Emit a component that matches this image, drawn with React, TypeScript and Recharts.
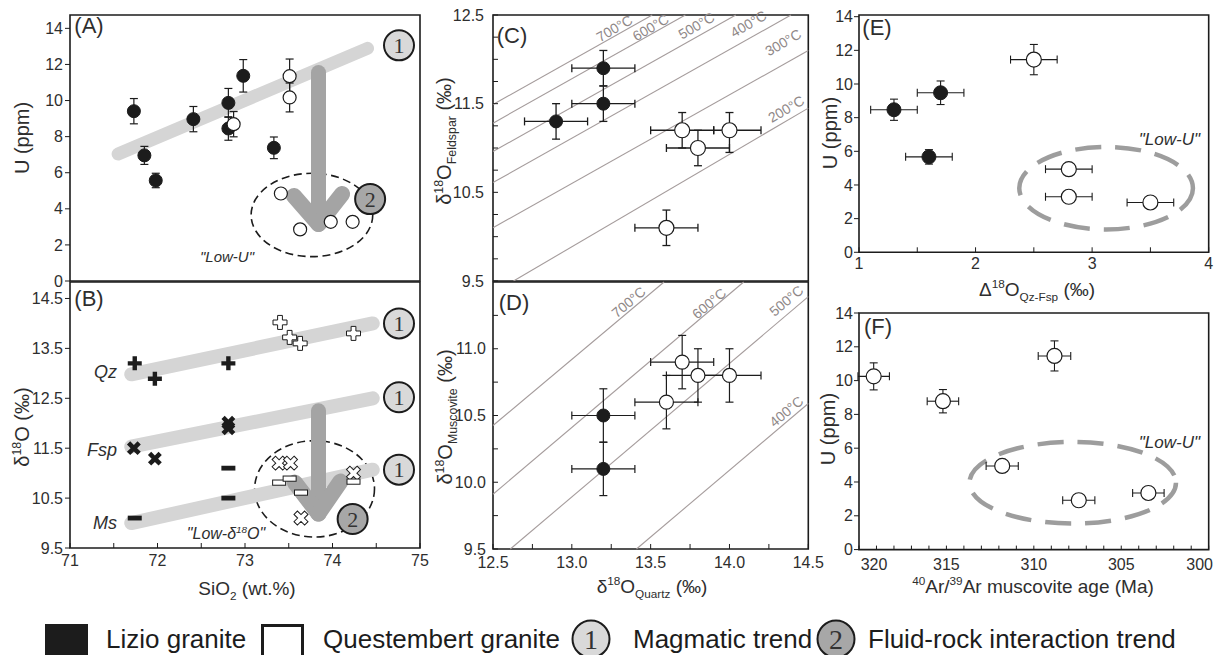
import React from 'react';
import { ScatterChart, Scatter, XAxis, YAxis, ErrorBar, ReferenceLine, ReferenceArea, ReferenceDot } from 'recharts';

const SANS = '"Liberation Sans", Arial, Helvetica, sans-serif';
const SERIF = '"Liberation Serif", "DejaVu Serif", "Times New Roman", serif';
const INK = '#1c1c1c';
const TEXT = '#2e2e2e';
const BAND = '#d5d5d5';
const ARROW = '#a4a4a4';
const CIRCLE1 = '#d9d9d9';
const CIRCLE2 = '#a7a7a7';
const ISO = '#a59c9c';
const DASHGRAY = '#9d9d9d';

// ---------------- Tick values ----------------
const aYTicks = [0, 2, 4, 6, 8, 10, 12, 14];
const abXTicks = [71, 71.5, 72, 72.5, 73, 73.5, 74, 74.5, 75];
const bYTicks = [9.5, 10.5, 11.5, 12.5, 13.5, 14.5];
const cdXTicks = [12.5, 12.75, 13, 13.25, 13.5, 13.75, 14, 14.25, 14.5];
const cYTicks = [9.5, 9.75, 10, 10.25, 10.5, 10.75, 11, 11.25, 11.5, 11.75, 12, 12.25, 12.5];
const dYTicks = [9.5, 9.75, 10, 10.25, 10.5, 10.75, 11, 11.25];
const efYTicks = [0, 2, 4, 6, 8, 10, 12, 14];
const eXTicks = [1, 1.5, 2, 2.5, 3, 3.5, 4];
const fXTicks = [300, 301, 302, 303, 304, 305, 306, 307, 308, 309, 310, 311, 312, 313, 314, 315, 316, 317, 318, 319, 320];

// ---------------- Panel A: U (ppm) vs SiO2 ----------------
const aLizio = [
  { x: 71.73, y: 9.41, ey: 0.7 },
  { x: 71.85, y: 6.96, ey: 0.5 },
  { x: 71.98, y: 5.57, ey: 0.4 },
  { x: 72.41, y: 8.97, ey: 0.7 },
  { x: 72.81, y: 9.87, ey: 0.8 },
  { x: 72.81, y: 8.45, ey: 0.65 },
  { x: 72.98, y: 11.37, ey: 0.9 },
  { x: 73.33, y: 7.38, ey: 0.6 },
];
const aQuestembert = [
  { x: 72.87, y: 8.69, ey: 0.7 },
  { x: 73.51, y: 11.35, ey: 0.95 },
  { x: 73.51, y: 10.17, ey: 0.8 },
  { x: 73.41, y: 4.85, ey: 0 },
  { x: 73.63, y: 2.86, ey: 0 },
  { x: 73.98, y: 3.28, ey: 0 },
  { x: 74.23, y: 3.28, ey: 0 },
];
const aMagmaticTrend = [{ x: 71.55, y: 7.04 }, { x: 74.4, y: 12.89 }];
const aArrowShaft = [{ x: 73.84, y: 11.55 }, { x: 73.84, y: 3.16 }];
const aArrowLeft = [{ x: 73.56, y: 4.71 }, { x: 73.84, y: 3.16 }];
const aArrowRight = [{ x: 74.11, y: 4.82 }, { x: 73.84, y: 3.16 }];
const aLowUField = [{ x: 73.07, y: 1.35 }, { x: 74.46, y: 5.97 }];
const aTrendMarks = [{ x: 74.76, y: 13.06, n: '1' }, { x: 74.43, y: 4.54, n: '2' }];

// ---------------- Panel B: d18O vs SiO2 ----------------
const bQzLizio = [{ x: 71.74, y: 13.2 }, { x: 71.97, y: 12.89 }, { x: 72.81, y: 13.2 }];
const bQzQuestembert = [{ x: 73.4, y: 14.02 }, { x: 73.51, y: 13.72 }, { x: 73.63, y: 13.6 }, { x: 74.24, y: 13.8 }];
const bFspLizio = [{ x: 71.73, y: 11.5 }, { x: 71.97, y: 11.29 }, { x: 72.81, y: 12.01 }, { x: 72.81, y: 11.9 }];
const bFspQuestembert = [{ x: 73.39, y: 11.2 }, { x: 73.52, y: 11.2 }, { x: 74.24, y: 11.0 }, { x: 73.64, y: 10.1 }];
const bMsLizio = [{ x: 71.74, y: 10.1 }, { x: 72.81, y: 11.1 }, { x: 72.81, y: 10.5 }];
const bMsQuestembert = [{ x: 73.39, y: 10.81 }, { x: 73.51, y: 10.89 }, { x: 73.64, y: 10.61 }, { x: 74.24, y: 10.83 }];
const bQzTrend = [{ x: 71.7, y: 12.98 }, { x: 74.46, y: 14.0 }];
const bFspTrend = [{ x: 71.7, y: 11.53 }, { x: 74.46, y: 12.5 }];
const bMsTrend = [{ x: 71.7, y: 10.0 }, { x: 74.46, y: 11.07 }];
const bArrowShaft = [{ x: 73.84, y: 12.25 }, { x: 73.84, y: 10.19 }];
const bArrowLeft = [{ x: 73.57, y: 10.81 }, { x: 73.84, y: 10.19 }];
const bArrowRight = [{ x: 74.09, y: 10.83 }, { x: 73.84, y: 10.19 }];
const bLowO18Field = [{ x: 73.11, y: 9.72 }, { x: 74.48, y: 11.65 }];
const bTrendMarks = [
  { x: 74.76, y: 14.0, n: '1' },
  { x: 74.76, y: 12.52, n: '1' },
  { x: 74.76, y: 11.07, n: '1' },
  { x: 74.23, y: 10.08, n: '2' },
];

// ---------------- Panel C: d18O Fsp vs d18O Qz ----------------
const cLizio = [
  { x: 12.9, y: 11.3, ex: 0.2, ey: 0.2 },
  { x: 13.2, y: 11.9, ex: 0.2, ey: 0.2 },
  { x: 13.2, y: 11.5, ex: 0.2, ey: 0.2 },
];
const cQuestembert = [
  { x: 13.7, y: 11.2, ex: 0.2, ey: 0.2 },
  { x: 14.0, y: 11.2, ex: [0.1, 0.2], ey: [0.25, 0.2] },
  { x: 13.8, y: 11.0, ex: 0.2, ey: 0.2 },
  { x: 13.6, y: 10.1, ex: 0.2, ey: 0.2 },
];
const cIsotherms = [
  { t: '700°C', x1: 12.5, y1: 11.49, x2: 13.51, y2: 12.5 },
  { t: '600°C', x1: 12.5, y1: 11.28, x2: 13.72, y2: 12.5 },
  { t: '500°C', x1: 12.5, y1: 10.96, x2: 14.04, y2: 12.5 },
  { t: '400°C', x1: 12.5, y1: 10.61, x2: 14.39, y2: 12.5 },
  { t: '300°C', x1: 12.5, y1: 10.1, x2: 14.5, y2: 12.1 },
  { t: '200°C', x1: 12.63, y1: 9.5, x2: 14.5, y2: 11.45 },
];
const cIsothermLabels = [
  { t: '700°C', x: 13.27, y: 12.35 },
  { t: '600°C', x: 13.5, y: 12.36 },
  { t: '500°C', x: 13.79, y: 12.38 },
  { t: '400°C', x: 14.12, y: 12.4 },
  { t: '300°C', x: 14.34, y: 12.19 },
  { t: '200°C', x: 14.36, y: 11.44 },
];

// ---------------- Panel D: d18O Ms vs d18O Qz ----------------
const dLizio = [
  { x: 13.2, y: 10.5, ex: 0.2, ey: 0.2 },
  { x: 13.2, y: 10.1, ex: 0.2, ey: 0.2 },
];
const dQuestembert = [
  { x: 13.7, y: 10.9, ex: 0.2, ey: 0.2 },
  { x: 13.8, y: 10.8, ex: 0.2, ey: 0.2 },
  { x: 14.0, y: 10.8, ex: 0.2, ey: 0.2 },
  { x: 13.6, y: 10.6, ex: 0.2, ey: 0.2 },
];
const dIsotherms = [
  { t: '700°C', x1: 12.5, y1: 10.425, x2: 13.585, y2: 11.5 },
  { t: '600°C', x1: 12.5, y1: 9.91, x2: 14.09, y2: 11.5 },
  { t: '500°C', x1: 12.61, y1: 9.5, x2: 14.5, y2: 11.39 },
  { t: '400°C', x1: 13.41, y1: 9.5, x2: 14.5, y2: 10.59 },
];
const dIsothermLabels = [
  { t: '700°C', x: 13.36, y: 11.35 },
  { t: '600°C', x: 13.87, y: 11.34 },
  { t: '500°C', x: 14.36, y: 11.36 },
  { t: '400°C', x: 14.36, y: 10.53 },
];

// ---------------- Panel E: U vs D18O Qz-Fsp ----------------
const eLizio = [
  { x: 1.3, y: 8.47, ex: 0.2, ey: 0.63 },
  { x: 1.7, y: 9.48, ex: 0.2, ey: 0.7 },
  { x: 1.6, y: 5.67, ex: 0.2, ey: 0.43 },
];
const eQuestembert = [
  { x: 2.5, y: 11.45, ex: 0.2, ey: 0.9 },
  { x: 2.8, y: 4.94, ex: 0.2, ey: 0 },
  { x: 2.8, y: 3.3, ex: 0.2, ey: 0 },
  { x: 3.5, y: 2.96, ex: 0.2, ey: 0 },
];
const eLowUField = [{ x: 2.375, y: 1.36 }, { x: 3.865, y: 6.26 }];

// ---------------- Panel F: U vs Ar-Ar age ----------------
const fQuestembert = [
  { x: 319.16, y: 10.25, ex: 0.9, ey: 0.8 },
  { x: 315.2, y: 8.78, ex: 0.9, ey: 0.69 },
  { x: 308.82, y: 11.46, ex: 0.93, ey: 0.89 },
  { x: 311.81, y: 4.95, ex: 0.92, ey: 0 },
  { x: 307.43, y: 2.92, ex: 0.92, ey: 0 },
  { x: 303.45, y: 3.35, ex: 0.9, ey: 0 },
];
const fLowUField = [{ x: 301.87, y: 1.54 }, { x: 313.68, y: 6.37 }];

// ---------------- helpers ----------------
type Rect = { x: number; y: number; w: number; h: number };
function frameLayout(plot: Rect, yW: number, xH: number, top = 8, right = 12, bottom = 4) {
  return {
    style: { position: 'absolute' as const, left: plot.x - yW, top: plot.y - top },
    width: yW + plot.w + right,
    height: top + plot.h + xH + bottom,
    margin: { top, right, bottom, left: 0 },
  };
}

const tickFont = { fontSize: 16, fill: TEXT, fontFamily: SANS };

const filledDot = (r: number) => (p: any) => <circle cx={p.cx} cy={p.cy} r={r} fill={INK} stroke={INK} strokeWidth={1} />;
const openDot = (r: number) => (p: any) => <circle cx={p.cx} cy={p.cy} r={r} fill="#ffffff" stroke={INK} strokeWidth={1.2} />;

function plusD(cx: number, cy: number, L: number, t: number) {
  return `M${cx - t},${cy - L}H${cx + t}V${cy - t}H${cx + L}V${cy + t}H${cx + t}V${cy + L}H${cx - t}V${cy + t}H${cx - L}V${cy - t}H${cx - t}Z`;
}
const qzFilled = (p: any) => <path d={plusD(p.cx, p.cy, 7, 2.2)} fill={INK} />;
const qzOpen = (p: any) => <path d={plusD(p.cx, p.cy, 7, 2.4)} fill="#fff" stroke={INK} strokeWidth={1} />;
const fspFilled = (p: any) => <path d={plusD(p.cx, p.cy, 7.5, 2.3)} fill={INK} transform={`rotate(45 ${p.cx} ${p.cy})`} />;
const fspOpen = (p: any) => <path d={plusD(p.cx, p.cy, 7.5, 2.4)} fill="#fff" stroke={INK} strokeWidth={1} transform={`rotate(45 ${p.cx} ${p.cy})`} />;
const msFilled = (p: any) => <rect x={p.cx - 7} y={p.cy - 2.4} width={14} height={4.8} fill={INK} />;
const msOpen = (p: any) => <rect x={p.cx - 6.5} y={p.cy - 2.6} width={13} height={5.2} fill="#fff" stroke={INK} strokeWidth={1} />;

const ellipseShape = (stroke: string, sw: number, dash: string) => (p: any) => (
  <ellipse cx={p.x + p.width / 2} cy={p.y + p.height / 2} rx={Math.abs(p.width) / 2} ry={Math.abs(p.height) / 2} fill="none" stroke={stroke} strokeWidth={sw} strokeDasharray={dash} />
);

const trendMark = (n: string) => (p: any) => (
  <g>
    <circle cx={p.cx} cy={p.cy} r={15} fill={n === '1' ? CIRCLE1 : CIRCLE2} stroke={INK} strokeWidth={2} />
    <text x={p.cx} y={p.cy + 7.5} textAnchor="middle" fontFamily={SERIF} fontSize={22} fill="#333">{n}</text>
  </g>
);

const isoLabel = (t: string, angle: number) => (p: any) => (
  <text x={p.cx} y={p.cy} dy={5} textAnchor="middle" fontFamily={SANS} fontSize={14} fill="#8f8888" transform={`rotate(${angle} ${p.cx} ${p.cy})`}>{t}</text>
);

const FTick = (p: any) => {
  const v = p.payload.value;
  if (v % 5 !== 0) return <g />;
  const dx = v === 320 ? 15 : v === 300 ? -9 : 0;
  return (
    <text x={p.x + dx} y={p.y} dy={12} textAnchor="middle" fontSize={16} fill={TEXT} fontFamily={SANS}>{String(v)}</text>
  );
};

const oddHalfFmt = (v: number) => (Math.abs(v - Math.floor(v) - 0.5) < 1e-6 ? v.toFixed(1) : '');
const halfStepFmt = (v: number) => (Math.abs(v * 2 - Math.round(v * 2)) < 1e-6 ? v.toFixed(1) : '');
const intFmt = (v: number) => (Number.isInteger(v) ? String(v) : '');

// ---------------- Panels ----------------
function PanelA() {
  const L = frameLayout({ x: 70, y: 15, w: 350, h: 266 }, 70, 0, 8, 10, 12);
  return (
    <div style={L.style}>
      <ScatterChart width={L.width} height={L.height} margin={L.margin}>
        <XAxis type="number" dataKey="x" domain={[71, 75]} ticks={abXTicks.slice(1, -1)} interval={0} allowDataOverflow height={0} axisLine={false} tick={false} tickSize={-5} tickLine={{ stroke: '#777' }} />
        <YAxis type="number" dataKey="y" domain={[0, 14.74]} ticks={aYTicks} interval={0} allowDataOverflow width={70} axisLine={false} tickSize={5} tickMargin={2} tick={tickFont} tickLine={{ stroke: INK }} />
        <ReferenceArea x1={aLowUField[0].x} x2={aLowUField[1].x} y1={aLowUField[0].y} y2={aLowUField[1].y} ifOverflow="visible" shape={ellipseShape(INK, 1.6, '8 4.5')} />
        <ReferenceLine segment={aMagmaticTrend} stroke={BAND} strokeWidth={13} strokeLinecap="round" ifOverflow="visible" />
        <ReferenceLine segment={aArrowShaft} stroke={ARROW} strokeWidth={15} strokeLinecap="round" ifOverflow="visible" />
        <ReferenceLine segment={aArrowLeft} stroke={ARROW} strokeWidth={16} strokeLinecap="round" ifOverflow="visible" />
        <ReferenceLine segment={aArrowRight} stroke={ARROW} strokeWidth={16} strokeLinecap="round" ifOverflow="visible" />
        <Scatter data={aLizio} shape={filledDot(6.5)} isAnimationActive={false}>
          <ErrorBar dataKey="ey" direction="y" width={4} stroke={INK} strokeWidth={1.2} />
        </Scatter>
        <Scatter data={aQuestembert} shape={openDot(6.5)} isAnimationActive={false}>
          <ErrorBar dataKey="ey" direction="y" width={4} stroke={INK} strokeWidth={1.2} />
        </Scatter>
        {aTrendMarks.map((m, i) => (
          <ReferenceDot key={i} x={m.x} y={m.y} r={15} ifOverflow="visible" shape={trendMark(m.n)} />
        ))}
        <ReferenceArea x1={71} x2={75} y1={0} y2={14.74} ifOverflow="visible" fill="none" stroke={INK} strokeWidth={1.6} />
      </ScatterChart>
    </div>
  );
}

function PanelB() {
  const L = frameLayout({ x: 70, y: 282, w: 350, h: 266 }, 70, 30, 6, 14, 4);
  return (
    <div style={L.style}>
      <ScatterChart width={L.width} height={L.height} margin={L.margin}>
        <XAxis type="number" dataKey="x" domain={[71, 75]} ticks={abXTicks} interval={0} allowDataOverflow height={30} axisLine={false} tickSize={-5} tickMargin={12} tick={tickFont} tickFormatter={intFmt} tickLine={{ stroke: INK }} />
        <YAxis type="number" dataKey="y" domain={[9.5, 14.83]} ticks={bYTicks} interval={0} allowDataOverflow width={70} axisLine={false} tickSize={5} tickMargin={2} tick={tickFont} tickLine={{ stroke: INK }} />
        <ReferenceArea x1={bLowO18Field[0].x} x2={bLowO18Field[1].x} y1={bLowO18Field[0].y} y2={bLowO18Field[1].y} ifOverflow="visible" shape={ellipseShape(INK, 1.6, '8 4.5')} />
        <ReferenceLine segment={bQzTrend} stroke={BAND} strokeWidth={14} strokeLinecap="round" ifOverflow="visible" />
        <ReferenceLine segment={bFspTrend} stroke={BAND} strokeWidth={14} strokeLinecap="round" ifOverflow="visible" />
        <ReferenceLine segment={bMsTrend} stroke={BAND} strokeWidth={14} strokeLinecap="round" ifOverflow="visible" />
        <ReferenceLine segment={bArrowShaft} stroke={ARROW} strokeWidth={15} strokeLinecap="round" ifOverflow="visible" />
        <ReferenceLine segment={bArrowLeft} stroke={ARROW} strokeWidth={16} strokeLinecap="round" ifOverflow="visible" />
        <ReferenceLine segment={bArrowRight} stroke={ARROW} strokeWidth={16} strokeLinecap="round" ifOverflow="visible" />
        <Scatter data={bQzLizio} shape={qzFilled} isAnimationActive={false} />
        <Scatter data={bQzQuestembert} shape={qzOpen} isAnimationActive={false} />
        <Scatter data={bFspLizio} shape={fspFilled} isAnimationActive={false} />
        <Scatter data={bFspQuestembert} shape={fspOpen} isAnimationActive={false} />
        <Scatter data={bMsLizio} shape={msFilled} isAnimationActive={false} />
        <Scatter data={bMsQuestembert} shape={msOpen} isAnimationActive={false} />
        {bTrendMarks.map((m, i) => (
          <ReferenceDot key={i} x={m.x} y={m.y} r={15} ifOverflow="visible" shape={trendMark(m.n)} />
        ))}
        <ReferenceArea x1={71} x2={75} y1={9.5} y2={14.83} ifOverflow="visible" fill="none" stroke={INK} strokeWidth={1.6} />
      </ScatterChart>
    </div>
  );
}

function PanelC() {
  const L = frameLayout({ x: 492.7, y: 15, w: 315.3, h: 266 }, 60, 0, 8, 14, 12);
  return (
    <div style={L.style}>
      <ScatterChart width={L.width} height={L.height} margin={L.margin}>
        <XAxis type="number" dataKey="x" domain={[12.5, 14.5]} ticks={cdXTicks.slice(1, -1)} interval={0} allowDataOverflow height={0} axisLine={false} tick={false} tickSize={-5} tickLine={{ stroke: INK }} />
        <YAxis type="number" dataKey="y" domain={[9.5, 12.5]} ticks={cYTicks} interval={0} allowDataOverflow width={60} axisLine={false} tickSize={-5} tickMargin={14} tick={tickFont} tickFormatter={oddHalfFmt} tickLine={{ stroke: INK }} />
        {cIsotherms.map((l, i) => (
          <ReferenceLine key={i} segment={[{ x: l.x1, y: l.y1 }, { x: l.x2, y: l.y2 }]} stroke={ISO} strokeWidth={1.1} ifOverflow="visible" />
        ))}
        <Scatter data={cLizio} shape={filledDot(6.5)} isAnimationActive={false}>
          <ErrorBar dataKey="ex" direction="x" width={4} stroke={INK} strokeWidth={1.3} />
          <ErrorBar dataKey="ey" direction="y" width={4} stroke={INK} strokeWidth={1.3} />
        </Scatter>
        <Scatter data={cQuestembert} shape={openDot(7.5)} isAnimationActive={false}>
          <ErrorBar dataKey="ex" direction="x" width={4} stroke={INK} strokeWidth={1.3} />
          <ErrorBar dataKey="ey" direction="y" width={4} stroke={INK} strokeWidth={1.3} />
        </Scatter>
        {cIsothermLabels.map((l, i) => (
          <ReferenceDot key={i} x={l.x} y={l.y} r={1} ifOverflow="hidden" shape={isoLabel(l.t, -30)} />
        ))}
        <ReferenceArea x1={12.5} x2={14.5} y1={9.5} y2={12.5} ifOverflow="visible" fill="none" stroke={INK} strokeWidth={1.6} />
      </ScatterChart>
    </div>
  );
}

function PanelD() {
  const L = frameLayout({ x: 492.7, y: 282, w: 315.3, h: 267 }, 60, 30, 6, 20, 4);
  return (
    <div style={L.style}>
      <ScatterChart width={L.width} height={L.height} margin={L.margin}>
        <XAxis type="number" dataKey="x" domain={[12.5, 14.5]} ticks={cdXTicks} interval={0} allowDataOverflow height={30} axisLine={false} tickSize={-5} tickMargin={13} tick={tickFont} tickFormatter={halfStepFmt} tickLine={{ stroke: INK }} />
        <YAxis type="number" dataKey="y" domain={[9.5, 11.5]} ticks={dYTicks} interval={0} allowDataOverflow width={60} axisLine={false} tickSize={-5} tickMargin={12} tick={tickFont} tickFormatter={halfStepFmt} tickLine={{ stroke: INK }} />
        {dIsotherms.map((l, i) => (
          <ReferenceLine key={i} segment={[{ x: l.x1, y: l.y1 }, { x: l.x2, y: l.y2 }]} stroke={ISO} strokeWidth={1.1} ifOverflow="visible" />
        ))}
        <Scatter data={dLizio} shape={filledDot(6.5)} isAnimationActive={false}>
          <ErrorBar dataKey="ex" direction="x" width={4} stroke={INK} strokeWidth={1.2} />
          <ErrorBar dataKey="ey" direction="y" width={4} stroke={INK} strokeWidth={1.2} />
        </Scatter>
        <Scatter data={dQuestembert} shape={openDot(7)} isAnimationActive={false}>
          <ErrorBar dataKey="ex" direction="x" width={4} stroke={INK} strokeWidth={1.2} />
          <ErrorBar dataKey="ey" direction="y" width={4} stroke={INK} strokeWidth={1.2} />
        </Scatter>
        {dIsothermLabels.map((l, i) => (
          <ReferenceDot key={i} x={l.x} y={l.y} r={1} ifOverflow="hidden" shape={isoLabel(l.t, -40)} />
        ))}
        <ReferenceArea x1={12.5} x2={14.5} y1={9.5} y2={11.5} ifOverflow="visible" fill="none" stroke={INK} strokeWidth={1.6} />
      </ScatterChart>
    </div>
  );
}

function PanelE() {
  const L = frameLayout({ x: 859.3, y: 15, w: 349.7, h: 237.3 }, 50, 30, 8, 10, 4);
  return (
    <div style={L.style}>
      <ScatterChart width={L.width} height={L.height} margin={L.margin}>
        <XAxis type="number" dataKey="x" domain={[1, 4]} ticks={eXTicks} interval={0} allowDataOverflow height={30} axisLine={false} tickSize={-5} tickMargin={10} tick={tickFont} tickFormatter={intFmt} tickLine={{ stroke: INK }} />
        <YAxis type="number" dataKey="y" domain={[0, 14.1]} ticks={efYTicks} interval={0} allowDataOverflow width={50} axisLine={false} tickSize={5} tickMargin={1} tick={tickFont} tickLine={{ stroke: INK }} />
        <ReferenceArea x1={eLowUField[0].x} x2={eLowUField[1].x} y1={eLowUField[0].y} y2={eLowUField[1].y} ifOverflow="visible" shape={ellipseShape(DASHGRAY, 4.5, '26 14')} />
        <Scatter data={eLizio} shape={filledDot(7)} isAnimationActive={false}>
          <ErrorBar dataKey="ex" direction="x" width={4} stroke={INK} strokeWidth={1.1} />
          <ErrorBar dataKey="ey" direction="y" width={4} stroke={INK} strokeWidth={1.1} />
        </Scatter>
        <Scatter data={eQuestembert} shape={openDot(7.5)} isAnimationActive={false}>
          <ErrorBar dataKey="ex" direction="x" width={4} stroke={INK} strokeWidth={1.1} />
          <ErrorBar dataKey="ey" direction="y" width={4} stroke={INK} strokeWidth={1.1} />
        </Scatter>
        <ReferenceArea x1={1} x2={4} y1={0} y2={14.1} ifOverflow="visible" fill="none" stroke={INK} strokeWidth={1.6} />
      </ScatterChart>
    </div>
  );
}

function PanelF() {
  const L = frameLayout({ x: 859.3, y: 312.7, w: 349.7, h: 236.6 }, 50, 30, 8, 10, 4);
  return (
    <div style={L.style}>
      <ScatterChart width={L.width} height={L.height} margin={L.margin}>
        <XAxis type="number" dataKey="x" domain={[300, 320]} reversed ticks={fXTicks} interval={0} allowDataOverflow height={30} axisLine={false} tickSize={-4} tickMargin={12} tick={FTick} tickLine={{ stroke: INK }} />
        <YAxis type="number" dataKey="y" domain={[0, 14]} ticks={efYTicks} interval={0} allowDataOverflow width={50} axisLine={false} tickSize={5} tickMargin={1} tick={tickFont} tickLine={{ stroke: INK }} />
        <ReferenceArea x1={fLowUField[0].x} x2={fLowUField[1].x} y1={fLowUField[0].y} y2={fLowUField[1].y} ifOverflow="visible" shape={ellipseShape(DASHGRAY, 4.5, '26 14')} />
        <Scatter data={fQuestembert} shape={openDot(7.5)} isAnimationActive={false}>
          <ErrorBar dataKey="ex" direction="x" width={4} stroke={INK} strokeWidth={1.1} />
          <ErrorBar dataKey="ey" direction="y" width={4} stroke={INK} strokeWidth={1.1} />
        </Scatter>
        <ReferenceArea x1={300} x2={320} y1={0} y2={14} ifOverflow="visible" fill="none" stroke={INK} strokeWidth={1.6} />
      </ScatterChart>
    </div>
  );
}

// ---------------- Text overlay ----------------
type Part = { t: string; sup?: boolean; sub?: boolean };
function Rich({ x, y, size, parts, rotate, anchor = 'middle', italic = false, fill = TEXT }: { x: number; y: number; size: number; parts: Part[]; rotate?: number; anchor?: string; italic?: boolean; fill?: string }) {
  let level = 0;
  const spans = parts.map((p, i) => {
    const target = p.sup ? -size * 0.38 : p.sub ? size * 0.26 : 0;
    const dy = target - level;
    level = target;
    return (
      <tspan key={i} dy={dy} fontSize={p.sup || p.sub ? size * 0.62 : size}>{p.t}</tspan>
    );
  });
  return (
    <text x={x} y={y + size * 0.35} fontSize={size} fontFamily={SANS} fill={fill} textAnchor={anchor as any} fontStyle={italic ? 'italic' : 'normal'} transform={rotate ? `rotate(${rotate} ${x} ${y})` : undefined}>
      {spans}
    </text>
  );
}

function Overlay() {
  return (
    <svg width={1222} height={655} style={{ position: 'absolute', left: 0, top: 0, pointerEvents: 'none' }}>
      {/* panel letters */}
      <Rich x={89} y={25} size={22} parts={[{ t: '(A)' }]} />
      <Rich x={89} y={298} size={22} parts={[{ t: '(B)' }]} />
      <Rich x={512} y={35} size={22} parts={[{ t: '(C)' }]} />
      <Rich x={514} y={302} size={22} parts={[{ t: '(D)' }]} />
      <Rich x={877} y={27} size={22} parts={[{ t: '(E)' }]} />
      <Rich x={878} y={326} size={22} parts={[{ t: '(F)' }]} />

      {/* y-axis titles */}
      <Rich x={22} y={138} size={20} rotate={-90} parts={[{ t: 'U (ppm)' }]} />
      <Rich x={22} y={427} size={20} rotate={-90} parts={[{ t: 'δ' }, { t: '18', sup: true }, { t: 'O (‰)' }]} />
      <Rich x={444} y={141} size={20} rotate={-90} parts={[{ t: 'δ' }, { t: '18', sup: true }, { t: 'O' }, { t: 'Feldspar', sub: true }, { t: ' (‰)' }]} />
      <Rich x={445} y={417} size={20} rotate={-90} parts={[{ t: 'δ' }, { t: '18', sup: true }, { t: 'O' }, { t: 'Muscovite', sub: true }, { t: ' (‰)' }]} />
      <Rich x={830} y={133} size={20} rotate={-90} parts={[{ t: 'U (ppm)' }]} />
      <Rich x={828} y={429} size={20} rotate={-90} parts={[{ t: 'U (ppm)' }]} />

      {/* x-axis titles */}
      <Rich x={247} y={588} size={19} parts={[{ t: 'SiO' }, { t: '2', sub: true }, { t: ' (wt.%)' }]} />
      <Rich x={652} y={586} size={19} parts={[{ t: 'δ' }, { t: '18', sup: true }, { t: 'O' }, { t: 'Quartz', sub: true }, { t: ' (‰)' }]} />
      <Rich x={1037} y={289} size={19} parts={[{ t: 'Δ' }, { t: '18', sup: true }, { t: 'O' }, { t: 'Qz-Fsp', sub: true }, { t: ' (‰)' }]} />
      <Rich x={1033} y={586} size={19} parts={[{ t: '40', sup: true }, { t: 'Ar/' }, { t: '39', sup: true }, { t: 'Ar muscovite age (Ma)' }]} />

      {/* annotations */}
      <Rich x={227} y={257} size={15} italic parts={[{ t: '"Low-U"' }]} />
      <Rich x={226} y={533} size={16} italic parts={[{ t: '"Low-δ' }, { t: '18', sup: true }, { t: 'O"' }]} />
      <Rich x={117} y={372} size={18} italic anchor="end" parts={[{ t: 'Qz' }]} />
      <Rich x={117} y={450} size={18} italic anchor="end" parts={[{ t: 'Fsp' }]} />
      <Rich x={117} y={523} size={18} italic anchor="end" parts={[{ t: 'Ms' }]} />
      <Rich x={1200} y={139} size={17} italic anchor="end" parts={[{ t: '"Low-U"' }]} />
      <Rich x={1200} y={442} size={17} italic anchor="end" parts={[{ t: '"Low-U"' }]} />

      {/* legend */}
      <rect x={45} y={624} width={43} height={40} fill={INK} />
      <text x={106} y={648} fontSize={26} fontFamily={SANS} fill={INK}>Lizio granite</text>
      <rect x={262.5} y={625.5} width={40} height={40} fill="#fff" stroke={INK} strokeWidth={3} />
      <text x={323} y={648} fontSize={26} fontFamily={SANS} fill={INK}>Questembert granite</text>
      <circle cx={591} cy={639} r={18.5} fill={CIRCLE1} stroke={INK} strokeWidth={2} />
      <text x={591} y={649} textAnchor="middle" fontSize={28} fontFamily={SERIF} fill="#333">1</text>
      <text x={633} y={648} fontSize={26} fontFamily={SANS} fill={INK}>Magmatic trend</text>
      <circle cx={836} cy={639} r={18.5} fill={CIRCLE2} stroke={INK} strokeWidth={2} />
      <text x={836} y={649} textAnchor="middle" fontSize={28} fontFamily={SERIF} fill="#333">2</text>
      <text x={868} y={648} fontSize={26} fontFamily={SANS} fill={INK}>Fluid-rock interaction trend</text>
    </svg>
  );
}

export default function App() {
  return (
    <div style={{ position: 'absolute', left: 0, top: 0, width: 1222, height: 655, background: '#ffffff', overflow: 'hidden', fontFamily: SANS }}>
      <PanelA />
      <PanelB />
      <PanelC />
      <PanelD />
      <PanelE />
      <PanelF />
      <Overlay />
    </div>
  );
}
